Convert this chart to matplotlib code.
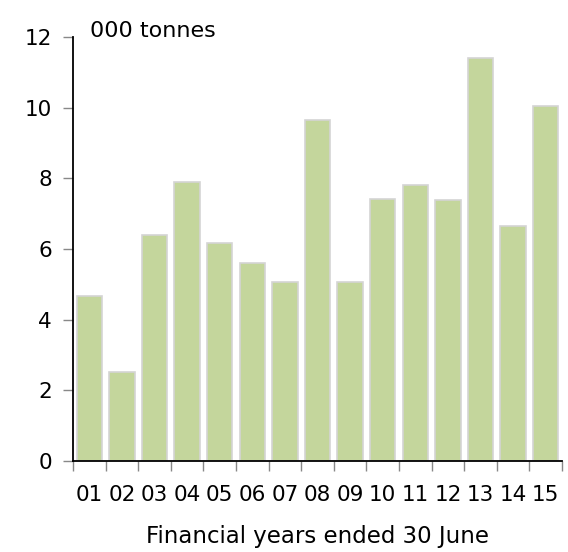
import matplotlib
matplotlib.use("Agg")
import matplotlib.pyplot as plt
import numpy as np

categories = ["01", "02", "03", "04", "05", "06", "07", "08", "09", "10", "11", "12", "13", "14", "15"]
values = [4.67, 2.52, 6.40, 7.90, 6.17, 5.60, 5.07, 9.65, 5.07, 7.42, 7.81, 7.39, 11.41, 6.65, 10.05]
yticks = [0, 2, 4, 6, 8, 10, 12]

plt.rcParams['font.family'] = ['DejaVu Sans']
fig = plt.figure(figsize=(5.68, 5.52), dpi=100)
ax = fig.add_axes([73/568, 1-461/552, (562-73)/568, (461-37)/552])

x = np.arange(len(categories))
ax.bar(x, values, width=0.78, color="#c4d69c", edgecolor="#d4d4d4", linewidth=1.2, zorder=2)

ax.set_xlim(-0.5, len(categories) - 0.5)
ax.set_ylim(0, 12)
ax.set_yticks(yticks)
ax.set_yticklabels([str(t) for t in yticks], fontsize=15.5)
ax.set_xticks(x)
ax.set_xticklabels(categories, fontsize=15.5)
ax.set_xticks(np.arange(-0.5, len(categories)), minor=True)
ax.tick_params(axis='x', which='major', length=0, pad=17)
ax.tick_params(axis='x', which='minor', length=7, color="#888888", width=1)
ax.tick_params(axis='y', length=7, color="#888888", width=1, pad=8)

for s in ['top', 'right']:
    ax.spines[s].set_visible(False)
for s in ['left', 'bottom']:
    ax.spines[s].set_linewidth(1.3)
    ax.spines[s].set_color("black")

ax.text(0.035, 1.014, "000 tonnes", transform=ax.transAxes, fontsize=16, ha='left', va='center')
ax.set_xlabel("Financial years ended 30 June", fontsize=16.5, labelpad=15)

fig.savefig("out.png", dpi=100)
